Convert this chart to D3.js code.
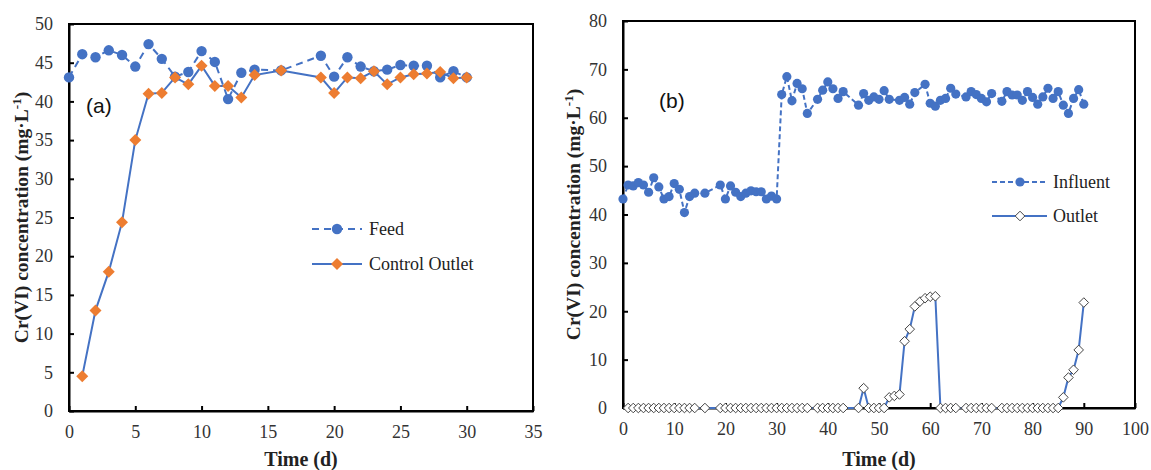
<!DOCTYPE html>
<html><head><meta charset="utf-8">
<script src="https://cdn.jsdelivr.net/npm/d3@7"></script>
<style>body{margin:0;background:#fff}</style>
</head><body>
<svg id="c" width="1151" height="470"></svg>
<script>
// ---------- Panel (a) data ----------
const feedDays = [0,1,2,3,4,5,6,7,8,9,10,11,12,13,14,16,19,20,21,22,23,24,25,26,27,28,29,30];
const feedVals = [43.1,46.1,45.7,46.6,46.0,44.5,47.4,45.5,43.2,43.8,46.5,45.1,40.3,43.7,44.1,44.0,45.9,43.2,45.7,44.5,43.9,44.1,44.7,44.6,44.6,43.1,43.9,43.1];
const ctrlDays = [1,2,3,4,5,6,7,8,9,10,11,12,13,14,16,19,20,21,22,23,24,25,26,27,28,29,30];
const ctrlVals = [4.5,13.0,18.0,24.4,35.0,41.0,41.1,43.1,42.2,44.6,42.0,42.0,40.5,43.4,44.0,43.1,41.1,43.1,43.0,43.9,42.2,43.1,43.5,43.6,43.8,43.0,43.1];
const aXTicks = [0,5,10,15,20,25,30,35];
const aYTicks = [0,5,10,15,20,25,30,35,40,45,50];

// ---------- Panel (b) data ----------
const inflDays = [0,1,2,3,4,5,6,7,8,9,10,11,12,13,14,16,19,20,21,22,23,24,25,26,27,28,29,30,31,32,33,34,35,36,38,39,40,41,42,43,46,47,48,49,50,51,52,54,55,56,57,59,60,61,62,63,64,65,67,68,69,70,71,72,74,75,76,77,78,79,80,81,82,83,84,85,86,87,88,89,90];
const inflVals = [43.2,46.1,45.9,46.6,46.1,44.6,47.6,45.7,43.2,43.7,46.4,45.2,40.4,43.7,44.4,44.4,46.1,43.2,45.9,44.6,43.7,44.4,44.9,44.7,44.7,43.2,43.8,43.2,64.8,68.5,63.5,67.1,66.0,60.9,63.8,65.7,67.4,66.0,64.0,65.4,62.6,65.0,63.6,64.3,63.8,65.6,63.8,63.6,64.2,62.8,65.2,66.9,63.0,62.4,63.6,64.0,66.1,64.9,64.3,65.4,64.8,64.0,63.3,65.0,63.4,65.4,64.7,64.7,63.6,65.4,64.2,62.8,64.3,66.1,64.0,65.4,62.6,60.9,64.0,65.8,62.8];
const outDays = [1,2,3,4,5,6,7,8,9,10,11,12,13,14,16,19,20,21,22,23,24,25,26,27,28,29,30,31,32,33,34,35,36,38,39,40,41,42,43,46,47,48,49,50,51,52,53,54,55,56,57,58,59,60,61,62,63,64,65,67,68,69,70,71,72,74,75,76,77,78,79,80,81,82,83,84,85,86,87,88,89,90];
const outVals = [0,0,0,0,0,0,0,0,0,0,0,0,0,0,0,0,0,0,0,0,0,0,0,0,0,0,0,0,0,0,0,0,0,0,0,0,0,0,0,0,4.1,0,0,0,0,2.2,2.5,2.8,13.8,16.3,21.0,22.0,22.7,23.0,23.1,0,0,0,0,0,0,0,0,0,0,0,0,0,0,0,0,0,0,0,0,0,0,2.2,6.3,7.9,12.0,21.8];
const bXTicks = [0,10,20,30,40,50,60,70,80,90,100];
const bYTicks = [0,10,20,30,40,50,60,70,80];

const BLUE = "#4472C4", ORANGE = "#ED7D31";
const SERIF = "'Liberation Serif','Times New Roman',serif";
const SANS = "'Liberation Sans',Arial,sans-serif";
const svg = d3.select("#c");
svg.append("rect").attr("width",1151).attr("height",470).attr("fill","#fff");

function panel(o){
  const g = svg.append("g");
  const x = d3.scaleLinear().domain(o.xd).range([o.l,o.r]);
  const y = d3.scaleLinear().domain(o.yd).range([o.b,o.t]);
  g.append("rect").attr("x",o.l).attr("y",o.t).attr("width",o.r-o.l).attr("height",o.b-o.t)
    .attr("fill","none").attr("stroke","#000").attr("stroke-width",2);
  const xa = g.append("g").attr("transform",`translate(0,${o.b})`)
    .call(d3.axisBottom(x).tickValues(o.xt).tickSize(-5).tickPadding(14).tickSizeOuter(0));
  const ya = g.append("g").attr("transform",`translate(${o.l},0)`)
    .call(d3.axisLeft(y).tickValues(o.yt).tickSize(-5).tickPadding(16).tickSizeOuter(0));
  [xa,ya].forEach(a=>{
    a.select(".domain").attr("stroke","#000").attr("stroke-width",2);
    a.selectAll(".tick line").attr("stroke","#000").attr("stroke-width",2);
    a.selectAll(".tick text").attr("font-family",SERIF).attr("font-size",18).attr("fill","#333");
  });
  g.append("text").attr("x",(o.l+o.r)/2).attr("y",466).attr("text-anchor","middle")
    .attr("font-family",SERIF).attr("font-weight","bold").attr("font-size",20).attr("fill","#222").text("Time (d)");
  const yt = g.append("text").attr("transform",`translate(${o.ytx},${(o.t+o.b)/2}) rotate(-90)`)
    .attr("text-anchor","middle").attr("font-family",SERIF).attr("font-weight","bold").attr("font-size",19.5).attr("fill","#222");
  yt.append("tspan").text("Cr(VI) concentration (mg\u00B7L");
  yt.append("tspan").attr("dy",-7).attr("font-size",13).text("-1");
  yt.append("tspan").attr("dy",7).text(")");
  g.append("text").attr("x",o.labx).attr("y",o.laby).attr("font-family",SANS).attr("font-size",21).attr("fill","#111").text(o.lab);
  return {g,x,y};
}

function diamond(sel, cx, cy, s){
  return sel.append("path").attr("d",`M${cx},${cy-s}L${cx+s},${cy}L${cx},${cy+s}L${cx-s},${cy}Z`);
}

// ---- Panel (a)
const A = panel({l:69,r:533,t:24,b:411,xd:[0,35],yd:[0,50],xt:aXTicks,yt:aYTicks,ytx:28,lab:"(a)",labx:86,laby:113});
const feed = feedDays.map((d,i)=>[d,feedVals[i]]);
const ctrl = ctrlDays.map((d,i)=>[d,ctrlVals[i]]);
const lineA = d3.line().x(d=>A.x(d[0])).y(d=>A.y(d[1]));
A.g.append("path").datum(feed).attr("d",lineA).attr("fill","none").attr("stroke",BLUE).attr("stroke-width",2).attr("stroke-dasharray","7,5");
A.g.selectAll(".fc").data(feed).enter().append("circle").attr("cx",d=>A.x(d[0])).attr("cy",d=>A.y(d[1])).attr("r",5.2).attr("fill",BLUE);
A.g.append("path").datum(ctrl).attr("d",lineA).attr("fill","none").attr("stroke",BLUE).attr("stroke-width",2);
ctrl.forEach(d=>diamond(A.g,A.x(d[0]),A.y(d[1]),6).attr("fill",ORANGE));
// legend a
A.g.append("line").attr("x1",312).attr("x2",362).attr("y1",229).attr("y2",229).attr("stroke",BLUE).attr("stroke-width",2).attr("stroke-dasharray","7,5");
A.g.append("circle").attr("cx",337).attr("cy",229).attr("r",5.2).attr("fill",BLUE);
A.g.append("text").attr("x",369).attr("y",235).attr("font-family",SERIF).attr("font-size",18).attr("fill","#222").text("Feed");
A.g.append("line").attr("x1",312).attr("x2",362).attr("y1",264).attr("y2",264).attr("stroke",BLUE).attr("stroke-width",2);
diamond(A.g,337,264,6).attr("fill",ORANGE);
A.g.append("text").attr("x",369).attr("y",270).attr("font-family",SERIF).attr("font-size",18).attr("fill","#222").text("Control Outlet");

// ---- Panel (b)
const B = panel({l:623,r:1135,t:21,b:408,xd:[0,100],yd:[0,80],xt:bXTicks,yt:bYTicks,ytx:580,lab:"(b)",labx:659,laby:108});
const infl = inflDays.map((d,i)=>[d,inflVals[i]]);
const outl = outDays.map((d,i)=>[d,outVals[i]]);
const lineB = d3.line().x(d=>B.x(d[0])).y(d=>B.y(d[1]));
B.g.append("path").datum(infl).attr("d",lineB).attr("fill","none").attr("stroke",BLUE).attr("stroke-width",2).attr("stroke-dasharray","5,3");
B.g.selectAll(".ic").data(infl).enter().append("circle").attr("cx",d=>B.x(d[0])).attr("cy",d=>B.y(d[1])).attr("r",4.6).attr("fill",BLUE);
B.g.append("path").datum(outl).attr("d",lineB).attr("fill","none").attr("stroke",BLUE).attr("stroke-width",2);
outl.forEach(d=>diamond(B.g,B.x(d[0]),B.y(d[1]),4.8).attr("fill","#fff").attr("stroke","#444").attr("stroke-width",1));
// legend b
B.g.append("line").attr("x1",992).attr("x2",1047).attr("y1",182).attr("y2",182).attr("stroke",BLUE).attr("stroke-width",2).attr("stroke-dasharray","5,3");
B.g.append("circle").attr("cx",1020).attr("cy",182).attr("r",4.6).attr("fill",BLUE);
B.g.append("text").attr("x",1053).attr("y",188).attr("font-family",SERIF).attr("font-size",18).attr("fill","#222").text("Influent");
B.g.append("line").attr("x1",992).attr("x2",1047).attr("y1",216).attr("y2",216).attr("stroke",BLUE).attr("stroke-width",2);
diamond(B.g,1020,216,4.8).attr("fill","#fff").attr("stroke","#444").attr("stroke-width",1);
B.g.append("text").attr("x",1053).attr("y",222).attr("font-family",SERIF).attr("font-size",18).attr("fill","#222").text("Outlet");
</script>
</body></html>
